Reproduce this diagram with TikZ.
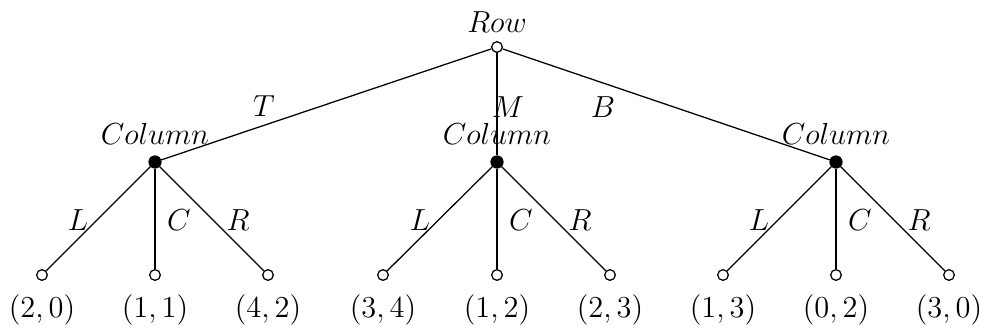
\documentclass[tikz,border=0pt,12pt]{standalone}
\begin{document}
\begin{tikzpicture}[x=0.394pt,y=-0.394pt,
  opennode/.style={circle,draw,fill=white,inner sep=0pt,minimum size=4.2pt,line width=0.5pt},
  dotnode/.style={circle,draw,fill=black,inner sep=0pt,minimum size=4.8pt},
  lbl/.style={inner sep=0pt,anchor=base},
  edge/.style={line width=0.5pt}]
\useasboundingbox (0,0) rectangle (989,332);
% nodes
\node[opennode] (r) at (497,47) {};
\node[dotnode] (c1) at (155,162) {};
\node[dotnode] (c2) at (497,162) {};
\node[dotnode] (c3) at (836,162) {};
\foreach \i/\x in {1/42,2/155,3/268,4/383,5/497,6/610,7/723,8/836,9/949}{
  \node[opennode] (l\i) at (\x,275) {};
}
% edges
\draw[edge] (r) -- (c1);
\draw[edge] (r) -- (c2);
\draw[edge] (r) -- (c3);
\draw[edge] (c1) -- (l1); \draw[edge] (c1) -- (l2); \draw[edge] (c1) -- (l3);
\draw[edge] (c2) -- (l4); \draw[edge] (c2) -- (l5); \draw[edge] (c2) -- (l6);
\draw[edge] (c3) -- (l7); \draw[edge] (c3) -- (l8); \draw[edge] (c3) -- (l9);
% player labels
\node[lbl] (tr) at (497,32) {$Row$};
\node[lbl] (tc1) at (155,144) {$Column$};
\node[lbl] (tc2) at (497,144) {$Column$};
\node[lbl] (tc3) at (836,144) {$Column$};
% action labels
\node[lbl] (aT) at (264,116) {$T$};
\node[lbl] (aM) at (508,117) {$M$};
\node[lbl] (aB) at (603,117) {$B$};
\foreach \c/\x in {1/155,2/497,3/836}{
  \node[lbl] (aL\c) at (\x-77,230) {$L$};
  \node[lbl] (aC\c) at (\x+24,230) {$C$};
  \node[lbl] (aR\c) at (\x+83,230) {$R$};
}
% payoffs
\foreach \i/\x/\p in {1/42/{(2,0)},2/155/{(1,1)},3/268/{(4,2)},4/383/{(3,4)},5/497/{(1,2)},6/610/{(2,3)},7/723/{(1,3)},8/836/{(0,2)},9/949/{(3,0)}}{
  \node[lbl] (p\i) at (\x,317) {$\p$};
}
\end{tikzpicture}
\end{document}
